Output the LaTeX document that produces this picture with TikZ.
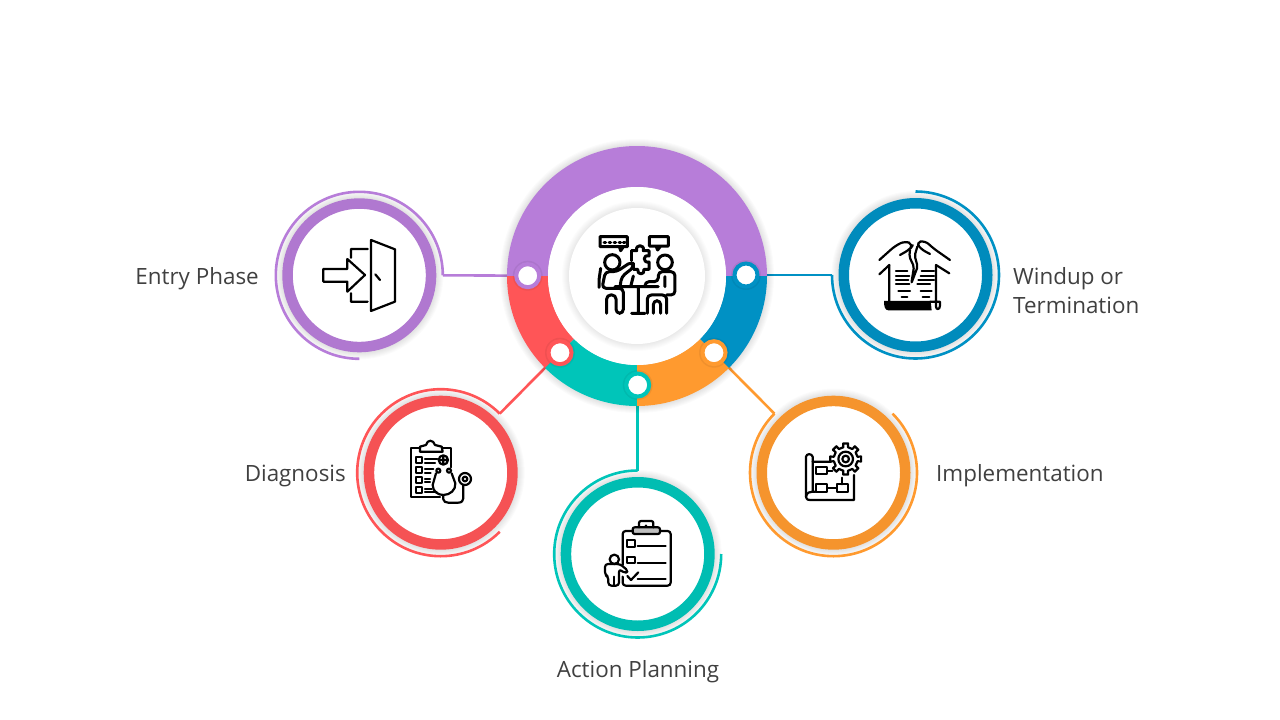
\documentclass[tikz,border=0pt]{standalone}
\usepackage{fontspec}
\setmainfont{Open Sans}
\usetikzlibrary{backgrounds}
\definecolor{cpurple}{HTML}{B77DD9}
\definecolor{cred}{HTML}{FF5557}
\definecolor{cteal}{HTML}{00C5B9}
\definecolor{corange}{HTML}{FF9A2F}
\definecolor{cblue}{HTML}{0091C4}
\definecolor{ctext}{HTML}{404040}
\tikzset{
  disc/.style={circle,fill=white,inner sep=0pt,outer sep=0pt,minimum size=143.5pt,line width=10.5pt},
  hubdot/.style={circle,fill=white,inner sep=0pt,outer sep=0pt,minimum size=23pt,line width=4pt},
  lbl/.style={text=ctext,font=\fontsize{22.4}{29}\selectfont,inner sep=0pt,align=left},
  link/.style={line width=2.6pt,line cap=butt},
  icon/.style={line width=2.2pt,line join=round,line cap=round},
  zoomed/.style 2 args={shift={(#1,#2)},x=.3333pt,y=-.3333pt}
}
\begin{document}
\begin{tikzpicture}[x=1pt,y=-1pt]
\useasboundingbox (0,0) rectangle (1280,720);
% soft shadows
\foreach \cx/\cy/\r in {637/276/130,359.3/275.3/77,915.5/275/77,440.7/472.7/77,637.7/554/77,833.5/472.7/77}
  \foreach \d in {1,...,7}
    \fill[black,opacity=.016] (\cx,\cy) circle[radius=\r pt+\d pt];
% ring
\foreach \a/\b/\col in {0/180/cpurple,180/225/cred,225/270/cteal,270/315/corange,315/360/cblue}
  \fill[\col] (637+130*cos \a,276-130*sin \a) arc[start angle=\a,end angle=\b,radius=130pt]
    -- (637+89*cos \b,276-89*sin \b) arc[start angle=\b,end angle=\a,radius=89pt] -- cycle;
\fill[white] (637,276) circle[radius=89pt];
\foreach \d in {1,...,7}
  \fill[black,opacity=.012] (637,276) circle[radius=68pt+\d pt];
\node[circle,fill=white,inner sep=0pt,minimum size=136pt] (hub) at (637,276) {};
% dots
\foreach \nm/\x/\y/\col in {entrydot/527.7/275.7/cpurple,windupdot/746/275/cblue,diagdot/560/352.7/cred,actiondot/637.7/385/cteal,impldot/714/352.7/corange}{
  \fill[black,opacity=.06] (\x,\y) circle[radius=15pt];
  \node[hubdot,draw=\col] (\nm) at (\x,\y) {};
}
% discs and their thin arcs
\foreach \nm/\x/\y/\col/\rr/\st/\dl in {entry/359.3/275.3/cpurple/83.5/0/270,windup/915.5/275/cblue/83.5/180/270,diag/440.7/472.7/cred/83.5/45/270,action/637.7/554/cteal/83.5/90/270,impl/833.5/472.7/corange/83.5/135/270}{
  \node[disc,draw=\col!96!black] (\nm) at (\x,\y) {};
  \coordinate (\nm-end) at ([shift={(\st:\rr pt)}]\nm);
  \draw[\col,line width=2.6pt] (\nm-end) arc[start angle=\st,delta angle=\dl,radius=\rr pt];
}
\begin{scope}[on background layer]
  \draw[link,cpurple] (entry-end) -- (entrydot);
  \draw[link,cblue] (windup-end) -- (windupdot);
  \draw[link,cred] (diag-end) -- (diagdot);
  \draw[link,cteal] (action-end) -- (actiondot);
  \draw[link,corange] (impl-end) -- (impldot);
\end{scope}
% labels
\node[lbl,anchor=east] (entrylbl) at (259,279) {Entry Phase};
\node[lbl,anchor=west] (winduplbl) at (1013,291) {Windup or\\Termination};
\node[lbl,anchor=east] (diaglbl) at (346,476) {Diagnosis};
\node[lbl,anchor=west] (impllbl) at (936,476) {Implementation};
\node[lbl] (actionlbl) at (638,672) {Action Planning};
% entry icon
\begin{scope}[zoomed={270}{185},icon]
  \draw (160,252)--(232,252)--(232,222)--(285,270)--(232,320)--(232,290)--(160,290)--cycle;
  \draw (303,165)--(375,193)--(375,350)--(303,378)--cycle;
  \draw (293,192)--(243,192)--(243,218) (243,325)--(243,350)--(293,350) (316,268)--(330,285);
\end{scope}
% windup icon
\begin{scope}[zoomed={830}{185},icon]
  \draw (178,240)--(178,350) (318,240)--(318,365) .. controls (318,375) and (330,375) .. (330,362)--(330,350)--(300,350);
  \fill (162,348)--(302,348)--(305,376)--(175,376) .. controls (165,376) and (162,365) .. (162,348)--cycle;
  \foreach \xa/\xb/\y in {198/232/258,198/238/272,198/235/285,198/238/298,205/240/318,215/232/335,275/312/258,272/312/272,265/312/285,262/300/298,272/305/318,278/298/335}
    \draw (\xa,\y)--(\xb,\y);
  \draw[rounded corners=5pt] (148,225)--(195,183)--(225,168)--(250,178)--(240,193)--(210,210);
  \draw (148,268)--(178,240) (318,240)--(358,265);
  \draw[rounded corners=5pt] (360,225)--(310,190)--(285,167)--(258,172)--(272,192)--(300,207);
  \draw[rounded corners=2pt] (240,195)--(238,215)--(252,245)--(244,295)--(263,245)--(254,212)--(262,185);
\end{scope}
% diagnosis icon
\begin{scope}[zoomed={350}{380},icon]
  \draw (270,350)--(183,350)--(183,205)--(210,205) (278,205)--(303,205)--(303,262);
  \draw (210,215)--(210,200)--(228,195) .. controls (232,178) and (250,178) .. (255,195)--(275,200)--(278,215)--cycle;
  \foreach \y in {232,262,292,322}
    \draw (198,\y) rectangle (215,\y+17);
  \foreach \xb/\y in {262/238,255/248,250/268,242/278,240/298,240/305,245/328,260/336}
    \draw (225,\y)--(\xb,\y);
  \draw (280,240) circle[radius=14] (272,240)--(288,240) (280,232)--(280,248);
  \draw (265,272) circle[radius=6] (297,272) circle[radius=6] (345,297) circle[radius=18] (345,297) circle[radius=7];
  \draw (258,280)--(248,315) .. controls (248,335) and (265,345) .. (280,345) .. controls (300,345) and (318,330) .. (316,310)--(305,280);
  \draw (280,345)--(280,358) .. controls (280,365) and (288,368) .. (295,368)--(325,368) .. controls (335,368) and (340,362) .. (340,355)--(340,315);
\end{scope}
% action icon
\begin{scope}[zoomed={545}{465},icon]
  \draw[rounded corners=3pt] (233,300)--(233,198)--(377,198)--(377,362)--(233,362)--(233,335);
  \draw[rounded corners=2pt,fill=black!25] (263,207)--(263,187)--(345,187)--(345,207)--cycle;
  \draw[rounded corners=2pt] (282,187)--(282,168)--(325,168)--(325,187);
  \fill (303,182) circle[radius=4];
  \draw (247,225) rectangle (270,245) (247,275) rectangle (270,295);
  \foreach \y in {243,295,343}
    \draw (278,\y)--(362,\y);
  \draw (247,333)--(258,345)--(280,322);
  \draw (208,283) circle[radius=14];
  \draw[rounded corners=3pt] (190,335)--(180,330)--(180,297)--(225,297)--(250,318)--(240,325)--(222,312)--(222,362)--(190,362)--cycle;
  \draw (206,335)--(206,362);
\end{scope}
% implementation icon
\begin{scope}[zoomed={745}{385},icon]
  \draw (183,335)--(183,215) .. controls (185,205) and (200,205) .. (203,215)--(203,320)--(212,320);
  \draw (183,335) .. controls (185,345) and (190,345) .. (195,345)--(327,345)--(327,270);
  \draw (183,335) .. controls (185,322) and (195,320) .. (203,320) (203,230)--(258,230);
  \draw (212,247) rectangle (247,268) (212,298) rectangle (247,320) (275,298) rectangle (310,320);
  \draw (247,258)--(262,258) (247,310)--(275,310) (292,298)--(292,278);
  \draw[shift={(302,222)}] (-11:36) \foreach \a in {0,45,...,315}{ -- (\a-11:36) -- (\a-9:47) -- (\a+9:47) -- (\a+11:36)} -- cycle;
  \draw (302,222) circle[radius=22] (302,222) circle[radius=10];
\end{scope}
% hub icon
\begin{scope}[zoomed={590}{230},icon,line width=3pt]
  \draw (30,20) rectangle (112,50) (88,50)--(92,62)--(100,50);
  \draw (178,20) rectangle (235,48) (198,48)--(203,60)--(212,48);
  \foreach \x in {42,57,72,87,100}
    \draw (\x,36)--(\x+5,36);
  \draw (67,97) circle[radius=23] (225,97) circle[radius=22];
  \draw (125,62)--(140,62) .. controls (135,42) and (165,42) .. (160,62)--(177,62)--(177,78) .. controls (158,72) and (158,100) .. (177,96)--(177,118)--(162,118) .. controls (166,136) and (140,136) .. (143,118)--(130,118)--(130,100);
  \draw (125,62)--(125,92);
  \draw (32,115)--(27,150)--(27,172);
  \draw[rounded corners=4pt] (50,250)--(50,195)--(78,195)--(78,250)--(100,250)--(100,175)--(36,175)--(46,125)--(80,125)--(125,95)--(133,110)--(95,140)--(90,170);
  \draw (75,170)--(205,170) (130,138)--(122,170) (145,170)--(145,250) (125,250)--(165,250);
  \draw[rounded corners=4pt] (172,250)--(172,195)--(230,195)--(230,250) (190,250)--(190,212)--(212,212)--(212,250);
  \draw[rounded corners=4pt] (230,195)--(255,195)--(255,125)--(205,125)--(205,155)--(165,155)--(165,170) (225,170)--(225,140);
\end{scope}
\end{tikzpicture}
\end{document}
